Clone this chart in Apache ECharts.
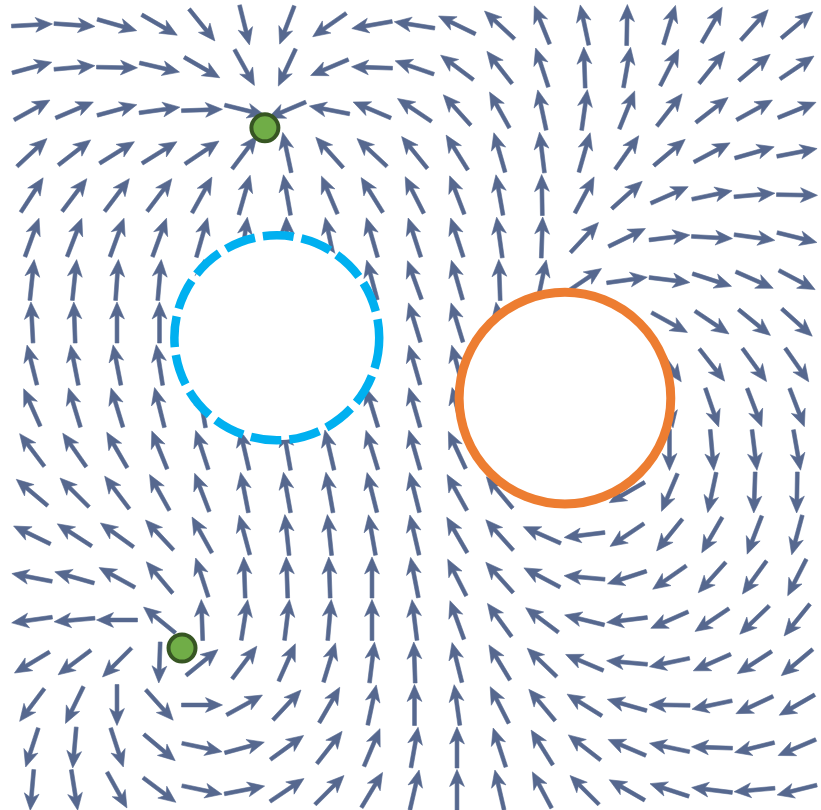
<!DOCTYPE html>
<html>
<head>
<meta charset="utf-8">
<title>Vector field</title>
<script src="https://cdn.jsdelivr.net/npm/echarts@6.0.0/dist/echarts.min.js"></script>
<style>
  html, body { margin: 0; padding: 0; background: #ffffff; }
  #chart { width: 821px; height: 810px; }
</style>
</head>
<body>
<div id="chart"></div>
<script>
// Sample grid: 19 columns by 19 rows, x to the right, y upward.
const xValues = [-9, -8, -7, -6, -5, -4, -3, -2, -1, 0, 1, 2, 3, 4, 5, 6, 7, 8, 9];
const yValues = [9, 8, 7, 6, 5, 4, 3, 2, 1, 0, -1, -2, -3, -4, -5, -6, -7, -8, -9];

// Field direction at each sample, degrees counter-clockwise from +x.
// null = sample lies inside a conductor ring and is not drawn.
const dirRow0  = [3, -4, -16, -30, -51, -76, 249, 215, 190, 171, 154, 137, 112, 102, 89, 73, 60, 48, 40];
const dirRow1  = [15, 5, -1, -13, -30, -61, 245, 203, 178, 161, 143, 128, 108, 92, 80, 63, 51, 40, 34];
const dirRow2  = [29, 23, 15, 8, 2, -14, 203, 169, 157, 146, 132, 119, 102, 82, 68, 52, 38, 29, 22];
const dirRow3  = [43, 38, 32, 32, 34, 53, 102, 132, 137, 129, 122, 106, 97, 74, 55, 40, 28, 16, 11];
const dirRow4  = [57, 53, 53, 53, 61, 74, 100, 113, 122, 117, 111, 100, 91, 62, 42, 24, 12, 5, -1];
const dirRow5  = [70, 69, 70, 70, 74, 82, 92, 102, 106, 108, 108, 98, 88, 47, 26, 7, -3, -8, -14];
const dirRow6  = [84, 84, 86, 85, 85, null, null, null, 105, 110, 106, 92, 78, 34, 8, -7, -18, -24, -28];
const dirRow7  = [93, 92, 90, 90, null, null, null, null, null, 107, 107, 100, null, null, -10, -29, -34, -39, -42];
const dirRow8  = [104, 101, 101, 99, null, null, null, null, null, 106, 105, null, null, null, null, -55, -52, -54, -55];
const dirRow9  = [114, 107, 107, 104, 100, null, null, null, 107, 106, 104, null, null, null, null, -80, -71, -69, -69];
const dirRow10 = [127, 125, 120, 112, 108, 103, 100, 103, 107, 106, 115, null, null, null, null, -90, -85, -83, -80];
const dirRow11 = [140, 135, 127, 119, 111, 101, 100, 100, 104, 104, 119, 130, null, null, 210, 247, 258, 268, 269];
const dirRow12 = [154, 147, 144, 133, 119, 105, 96, 96, 100, 103, 120, 132, 156, 187, 214, 231, 240, 249, 255];
const dirRow13 = [169, 164, 151, 130, 108, 92, 92, 92, 90, 101, 117, 132, 152, 175, 198, 215, 228, 234, 243];
const dirRow14 = [188, 185, 180, 141, 92, 81, 83, 85, 90, 97, 110, 126, 143, 166, 187, 204, 214, 224, 231];
const dirRow15 = [211, 217, 225, 268, 39, 53, 66, 73, 83, 92, 104, 121, 136, 157, 175, 192, 204, 213, 220];
const dirRow16 = [233, 244, 270, 312, 0, 29, 47, 60, 78, 90, 98, 117, 130, 148, 164, 179, 192, 205, 210];
const dirRow17 = [252, 265, 288, 320, 348, 15, 36, 52, 67, 80, 90, 108, 122, 142, 157, 168, 178, 194, 203];
const dirRow18 = [265, 279, 299, 323, 348, 11, 34, 45, 59, 77, 90, 103, 118, 135, 150, 162, 173, 185, 194];

const directionRows = [
  dirRow0, dirRow1, dirRow2, dirRow3, dirRow4, dirRow5, dirRow6, dirRow7, dirRow8, dirRow9,
  dirRow10, dirRow11, dirRow12, dirRow13, dirRow14, dirRow15, dirRow16, dirRow17, dirRow18
];

// Conductor rings: [centre x, centre y, radius]
const ringDashed = [-3.24, 1.64, 2.41];
const ringSolid  = [3.54, 0.22, 2.49];

// Neutral points: [x, y]
const nullPoints = [[-3.52, 6.58], [-5.47, -5.66]];

// Build the arrow list from the grid and directions.
const arrowData = [];
directionRows.forEach((row, r) => {
  row.forEach((deg, c) => {
    if (deg !== null) arrowData.push([xValues[c], yValues[r], deg]);
  });
});

const ARROW_COLOR = '#56688f';
// Arrow outline in pixels, along (s) and across (t) its direction.
const arrowShape = [
  [-20.5, -1.9], [7, -1.9], [3.5, -7.4], [20.5, 0], [3.5, 7.4], [7, 1.9], [-20.5, 1.9]
];

function renderArrow(params, api) {
  const p = api.coord([api.value(0), api.value(1)]);
  const a = api.value(2) * Math.PI / 180;
  const ux = Math.cos(a), uy = -Math.sin(a);
  const vx = -uy, vy = ux;
  const pts = arrowShape.map(([s, t]) => [p[0] + s * ux + t * vx, p[1] + s * uy + t * vy]);
  return {
    type: 'polygon',
    shape: { points: pts },
    style: { fill: ARROW_COLOR, stroke: ARROW_COLOR, lineWidth: 0.6, lineJoin: 'round' }
  };
}

function ringRenderer(stroke, width, dash) {
  return function (params, api) {
    const p = api.coord([api.value(0), api.value(1)]);
    const rad = api.size([api.value(2), 0])[0];
    return {
      type: 'circle',
      shape: { cx: p[0], cy: p[1], r: rad },
      style: { fill: '#ffffff', stroke: stroke, lineWidth: width, lineDash: dash, lineCap: 'butt' }
    };
  };
}

const chart = echarts.init(document.getElementById('chart'), null, { renderer: 'canvas' });
chart.setOption({
  animation: false,
  backgroundColor: '#ffffff',
  grid: { left: 0, right: 0, top: 0, bottom: 0 },
  xAxis: { type: 'value', min: -9.7529, max: 9.5647, show: false },
  yAxis: { type: 'value', min: -9.4706, max: 9.5882, show: false },
  series: [
    {
      type: 'custom',
      name: 'field',
      data: arrowData,
      renderItem: renderArrow,
      z: 1,
      silent: true
    },
    {
      type: 'custom',
      name: 'ring dashed',
      data: [ringDashed],
      renderItem: ringRenderer('#00b0f0', 8.5, [31, 8]),
      z: 2,
      silent: true
    },
    {
      type: 'custom',
      name: 'ring solid',
      data: [ringSolid],
      renderItem: ringRenderer('#ed7d31', 9, null),
      z: 2,
      silent: true
    },
    {
      type: 'scatter',
      name: 'neutral',
      data: nullPoints,
      symbol: 'circle',
      symbolSize: 27,
      itemStyle: { color: '#70ad47', borderColor: '#375623', borderWidth: 4, opacity: 1 },
      z: 3,
      silent: true
    }
  ]
});
</script>
</body>
</html>
